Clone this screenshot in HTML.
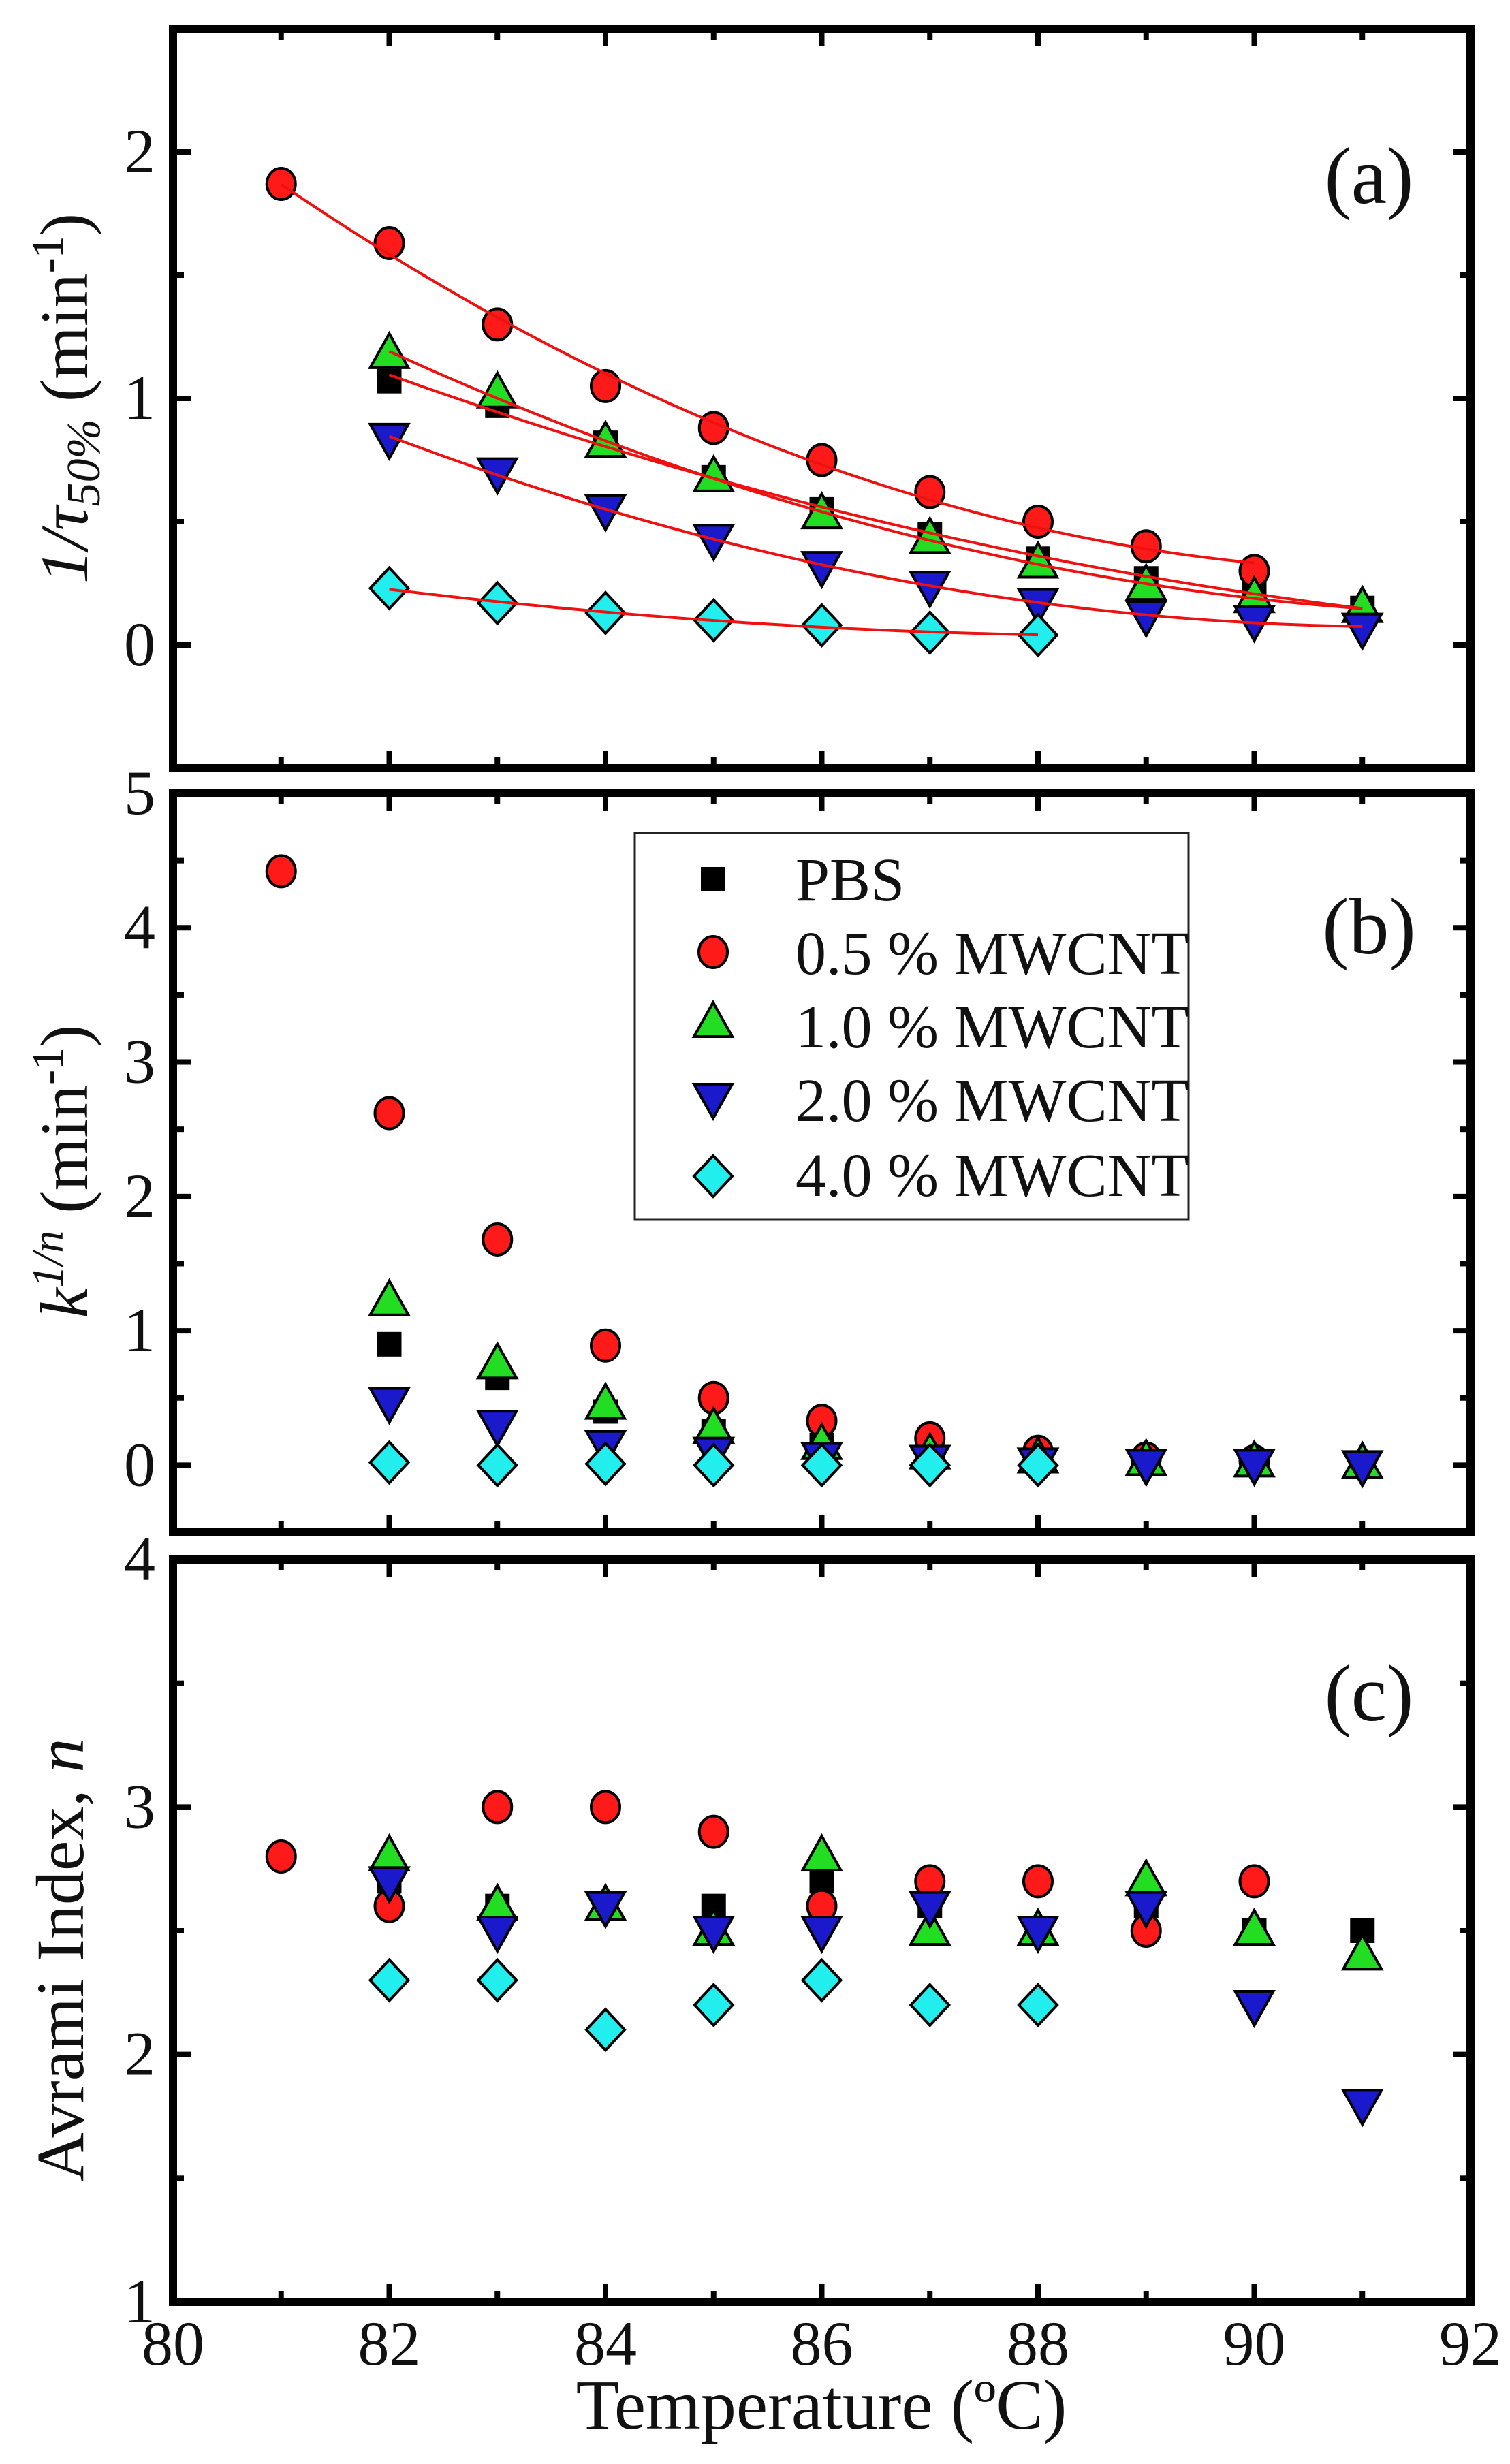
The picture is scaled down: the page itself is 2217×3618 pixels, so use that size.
<!DOCTYPE html>
<html><head><meta charset="utf-8">
<style>
html,body{margin:0;padding:0;background:#fff;}
svg{display:block;}
text,tspan{font-family:"Liberation Serif","Times New Roman",Times,serif;fill:#111;}
</style></head>
<body>
<svg id="fig" width="2217" height="3618" viewBox="0 0 2217 3618" xmlns="http://www.w3.org/2000/svg"></svg>
<script>
// ---- data ----
const temps = [81,82,83,84,85,86,87,88,89,90,91];
const seriesNames = ["PBS","0.5 % MWCNT","1.0 % MWCNT","2.0 % MWCNT","4.0 % MWCNT"];
// panel (a): 1/tau50%
const aX_pbs = [82,83,84,85,86,87,88,89,90,91];
const aY_pbs = [1.07,0.97,0.82,0.68,0.55,0.45,0.35,0.27,0.22,0.15];
const aX_05 = [81,82,83,84,85,86,87,88,89,90];
const aY_05 = [1.87,1.63,1.30,1.05,0.88,0.75,0.62,0.50,0.40,0.30];
const aX_10 = [82,83,84,85,86,87,88,89,90,91];
const aY_10 = [1.18,1.02,0.82,0.68,0.53,0.43,0.33,0.24,0.19,0.15];
const aX_20 = [82,83,84,85,86,87,88,89,90,91];
const aY_20 = [0.84,0.70,0.55,0.43,0.32,0.24,0.17,0.12,0.10,0.07];
const aX_40 = [82,83,84,85,86,87,88];
const aY_40 = [0.23,0.17,0.13,0.10,0.08,0.05,0.04];
// panel (b): k^(1/n)
const bX_pbs = [82,83,84,85,86,87,88,89,90,91];
const bY_pbs = [0.90,0.65,0.40,0.25,0.15,0.08,0.05,0.03,0.02,0.01];
const bX_05 = [81,82,83,84,85,86,87,88,89,90];
const bY_05 = [4.42,2.62,1.68,0.89,0.50,0.33,0.20,0.10,0.05,0.03];
const bX_10 = [82,83,84,85,86,87,88,89,90,91];
const bY_10 = [1.22,0.75,0.45,0.27,0.15,0.08,0.05,0.03,0.02,0.01];
const bX_20 = [82,83,84,85,86,87,88,89,90,91];
const bY_20 = [0.47,0.30,0.15,0.10,0.06,0.04,0.02,0.01,0.01,0.0];
const bX_40 = [82,83,84,85,86,87,88];
const bY_40 = [0.02,0.0,0.01,0.0,0.0,0.0,0.0];
// panel (c): Avrami n
const cX_pbs = [82,83,84,85,86,87,88,89,90,91];
const cY_pbs = [2.7,2.6,2.6,2.6,2.7,2.6,2.7,2.6,2.5,2.5];
const cX_05 = [81,82,83,84,85,86,87,88,89,90];
const cY_05 = [2.8,2.6,3.0,3.0,2.9,2.6,2.7,2.7,2.5,2.7];
const cX_10 = [82,83,84,85,86,87,88,89,90,91];
const cY_10 = [2.8,2.6,2.6,2.5,2.8,2.5,2.5,2.7,2.5,2.4];
const cX_20 = [82,83,84,85,86,87,88,89,90,91];
const cY_20 = [2.7,2.5,2.6,2.5,2.5,2.6,2.5,2.6,2.2,1.8];
const cX_40 = [82,83,84,85,86,87,88];
const cY_40 = [2.3,2.3,2.1,2.2,2.3,2.2,2.2];
const xTicks = [80,82,84,86,88,90,92];
const aTicks = [0,1,2];
const bTicks = [0,1,2,3,4,5];
const cTicks = [1,2,3,4];

// ---- layout ----
const NS="http://www.w3.org/2000/svg";
const svg=document.getElementById('fig');
const L=254,R=2159;
const xmin=80,xmax=92;
const FONT='"Liberation Serif","Times New Roman",Times,serif';
function sx(v){return L+(v-xmin)/(xmax-xmin)*(R-L);}
function mk(tag,attrs,parent){const e=document.createElementNS(NS,tag);for(const k in attrs)e.setAttribute(k,attrs[k]);(parent||svg).appendChild(e);return e;}
const panels=[
 {id:'a',top:42,bot:1128,ymin:-0.5,ymax:2.5,ticks:aTicks,
  data:[[aX_pbs,aY_pbs],[aX_05,aY_05],[aX_10,aY_10],[aX_20,aY_20],[aX_40,aY_40]],fit:true,label:'(a)',ly:262},
 {id:'b',top:1165,bot:2250,ymin:-0.5,ymax:5,ticks:bTicks,
  data:[[bX_pbs,bY_pbs],[bX_05,bY_05],[bX_10,bY_10],[bX_20,bY_20],[bX_40,bY_40]],fit:false,label:'(b)',ly:1364},
 {id:'c',top:2290,bot:3380,ymin:1,ymax:4,ticks:cTicks,
  data:[[cX_pbs,cY_pbs],[cX_05,cY_05],[cX_10,cY_10],[cX_20,cY_20],[cX_40,cY_40]],fit:false,label:'(c)',ly:2490}
];
const fills=['#000','#ff1a1a','#22dd22','#1a1acc','#22eeee'];
const keys=['pbs','mwcnt-05','mwcnt-10','mwcnt-20','mwcnt-40'];
function marker(type,x,y,g){
  const st={stroke:'#000','stroke-width':4,fill:fills[type]};
  let e;
  if(type===0){e=mk('rect',{x:x-18,y:y-18,width:36,height:36,fill:'#000'},g);}
  else if(type===1){e=mk('ellipse',Object.assign({cx:x,cy:y,rx:21,ry:23},st),g);}
  else if(type===2){e=mk('polygon',Object.assign({points:`${x},${y-30} ${x+28},${y+20} ${x-28},${y+20}`},st),g);}
  else if(type===3){e=mk('polygon',Object.assign({points:`${x-28},${y-20} ${x+28},${y-20} ${x},${y+30}`},st),g);}
  else {e=mk('polygon',Object.assign({points:`${x},${y-30} ${x+28},${y} ${x},${y+30} ${x-28},${y}`},st),g);}
  return e;
}
function quadFit(xs,ys){
  let n=xs.length,S=[0,0,0,0,0],T=[0,0,0];
  for(let i=0;i<n;i++){const u=xs[i]-86;let p=1;for(let k=0;k<5;k++){S[k]+=p;if(k<3)T[k]+=p*ys[i];p*=u;}}
  const M=[[S[0],S[1],S[2],T[0]],[S[1],S[2],S[3],T[1]],[S[2],S[3],S[4],T[2]]];
  for(let i=0;i<3;i++){for(let j=i+1;j<3;j++){const f=M[j][i]/M[i][i];for(let k=i;k<4;k++)M[j][k]-=f*M[i][k];}}
  const c=[0,0,0];
  for(let i=2;i>=0;i--){let s=M[i][3];for(let k=i+1;k<3;k++)s-=M[i][k]*c[k];c[i]=s/M[i][i];}
  return u=>c[0]+c[1]*(u-86)+c[2]*(u-86)*(u-86);
}
panels.forEach(p=>{
  const sy=v=>p.bot-(v-p.ymin)/(p.ymax-p.ymin)*(p.bot-p.top);
  const g=mk('g',{});
  
  
  for(let v=81;v<=91;v++){
    const len=(v%2===0)?26:16;
    mk('line',{x1:sx(v),x2:sx(v),y1:p.top,y2:p.top+len,stroke:'#000','stroke-width':8},g);
    mk('line',{x1:sx(v),x2:sx(v),y1:p.bot,y2:p.bot-len,stroke:'#000','stroke-width':8},g);
  }
  for(let v=Math.ceil(p.ymin*2)/2;v<=p.ymax+1e-9;v+=0.5){
    const maj=Math.abs(v-Math.round(v))<1e-9;const len=maj?26:16;
    mk('line',{x1:L,x2:L+len,y1:sy(v),y2:sy(v),stroke:'#000','stroke-width':8},g);
    mk('line',{x1:R,x2:R-len,y1:sy(v),y2:sy(v),stroke:'#000','stroke-width':8},g);
  }
  p.ticks.forEach(v=>{
    const t=mk('text',{x:228,y:sy(v)+30,'text-anchor':'end','font-size':92,'font-family':FONT},g);
    t.textContent=String(v);
    
    
  });
  p.data.forEach((d,si)=>{
    const sg=mk('g',{},g);
    
    
    d[0].forEach((xv,i)=>{marker(si,sx(xv),sy(d[1][i]),sg);});
  });
  if(p.fit){
    p.data.forEach((d,si)=>{
      const f=quadFit(d[0],d[1]);
      const x0=d[0][0],x1=d[0][d[0].length-1];
      let pts=[];
      for(let k=0;k<=60;k++){const xv=x0+(x1-x0)*k/60;pts.push(sx(xv).toFixed(1)+','+sy(f(xv)).toFixed(1));}
      const pl=mk('polyline',{points:pts.join(' '),fill:'none',stroke:'#ee1111','stroke-width':4},g);
      
      
    });
  }
  const fr=mk('rect',{x:L,y:p.top,width:R-L,height:p.bot-p.top,fill:'none',stroke:'#000','stroke-width':12},g);
  
  
  const lb=mk('text',{x:2010,y:p.ly+36,'text-anchor':'middle','font-size':118,'font-family':FONT},g);
  lb.textContent=p.label;
  
  
});
xTicks.forEach(v=>{
  const t=mk('text',{x:sx(v),y:3472,'text-anchor':'middle','font-size':92,'font-family':FONT});
  t.textContent=String(v);
  
  
});
</script>
<div style="position:absolute;left:0;top:0;width:2217px;height:3618px;pointer-events:none">
<svg width="2217" height="3618" xmlns="http://www.w3.org/2000/svg" font-family="'Liberation Serif','Times New Roman',Times,serif">
  <text x="1206" y="3566" text-anchor="middle" font-size="104">Temperature (ºC)</text>
  <text transform="translate(128,585) rotate(-90)" text-anchor="middle" font-size="100"><tspan font-style="italic">1/τ</tspan><tspan font-style="italic" font-size="70" dy="18">50%</tspan><tspan dy="-18"> (min</tspan><tspan font-size="66" dy="-36">-1</tspan><tspan dy="36">)</tspan></text>
  <text transform="translate(128,1720) rotate(-90)" text-anchor="middle" font-size="100"><tspan font-style="italic">k</tspan><tspan font-style="italic" font-size="66" dy="-36">1/n</tspan><tspan dy="36"> (min</tspan><tspan font-size="66" dy="-36">-1</tspan><tspan dy="36">)</tspan></text>
  <text transform="translate(122,2878) rotate(-90)" text-anchor="middle" font-size="100">Avrami Index, <tspan font-style="italic">n</tspan></text>
  <g>
    <rect x="932" y="1223" width="813" height="568" fill="#fff" stroke="#222" stroke-width="3"/>
    <rect x="1029" y="1273" width="36" height="36" fill="#000"/>
    <ellipse cx="1047" cy="1398" rx="21" ry="23" fill="#ff1a1a" stroke="#000" stroke-width="4"/>
    <polygon points="1047,1472 1075,1522 1019,1522" fill="#22dd22" stroke="#000" stroke-width="4"/>
    <polygon points="1019,1592 1075,1592 1047,1642" fill="#1a1acc" stroke="#000" stroke-width="4"/>
    <polygon points="1047,1697 1075,1727 1047,1757 1019,1727" fill="#22eeee" stroke="#000" stroke-width="4"/>
    <text x="1168" y="1322" font-size="90">PBS</text>
    <text x="1168" y="1430" font-size="90">0.5 % MWCNT</text>
    <text x="1168" y="1538" font-size="90">1.0 % MWCNT</text>
    <text x="1168" y="1646" font-size="90">2.0 % MWCNT</text>
    <text x="1168" y="1756" font-size="90">4.0 % MWCNT</text>
  </g>
</svg>
</div>
</body></html>
